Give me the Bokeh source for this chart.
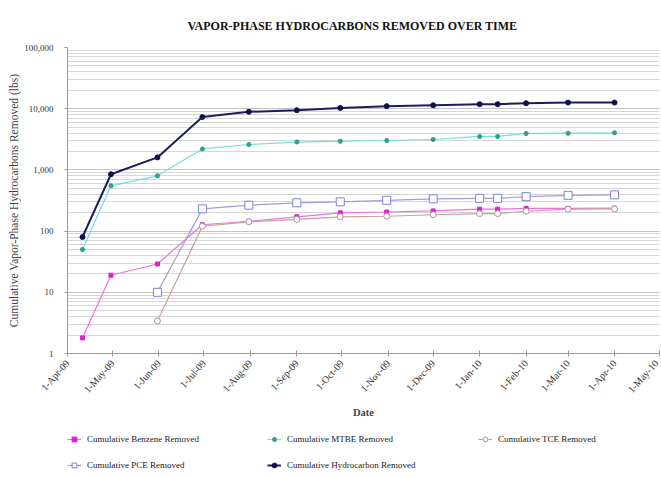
import pandas as pd
from bokeh.plotting import figure
from bokeh.layouts import column
from bokeh.models import Legend, LegendItem, FixedTicker, NumeralTickFormatter, Range1d
from bokeh.embed import file_html
from bokeh.resources import INLINE

# ---------------- data ----------------
dates = ["2009-04-11", "2009-04-30", "2009-05-31", "2009-06-30", "2009-07-31",
         "2009-09-01", "2009-09-30", "2009-10-31", "2009-12-01", "2010-01-01",
         "2010-01-13", "2010-02-01", "2010-03-01", "2010-04-01"]
benzene = [1.8, 19, 29, 127, 145, 171, 199, 205, 214, 228, 228, 235, 236, 237]
mtbe = [50, 550, 800, 2200, 2600, 2850, 2950, 3020, 3140, 3520, 3520, 3940, 3980, 4040]
tce_dates = dates[2:]
tce = [3.4, 120, 142, 155, 171, 175, 185, 193, 193, 211, 228, 230]
pce_dates = dates[2:]
pce = [10, 231, 265, 290, 301, 318, 337, 343, 343, 365, 384, 391]
hydrocarbon = [80, 850, 1600, 7300, 8900, 9450, 10300, 11000, 11400, 11850, 11850, 12300, 12600, 12600]

tick_dates = ["2009-04-01", "2009-05-01", "2009-06-01", "2009-07-01", "2009-08-01",
              "2009-09-01", "2009-10-01", "2009-11-01", "2009-12-01", "2010-01-01",
              "2010-02-01", "2010-03-01", "2010-04-01", "2010-05-01"]
tick_labels = ["1-Apr-09", "1-May-09", "1-Jun-09", "1-Jul-09", "1-Aug-09", "1-Sep-09",
               "1-Oct-09", "1-Nov-09", "1-Dec-09", "1-Jan-10", "1-Feb-10", "1-Mar-10",
               "1-Apr-10", "1-May-10"]

series_names = ["Cumulative Benzene Removed", "Cumulative MTBE Removed",
                "Cumulative TCE Removed", "Cumulative PCE Removed",
                "Cumulative Hydrocarbon Removed"]

title_text = "VAPOR-PHASE HYDROCARBONS REMOVED OVER TIME"
y_title = "Cumulative Vapor-Phase Hydrocarbons Removed (lbs)"
x_title = "Date"

start = pd.Timestamp(tick_dates[0])
def days(lst):
    return [(pd.Timestamp(d) - start).days for d in lst]

x_main = days(dates)
x_tce = days(tce_dates)
x_pce = days(pce_dates)
x_ticks = days(tick_dates)

SERIF = "Liberation Serif"

# ---------------- styles ----------------
styles = [
    dict(line=dict(line_color="#f070e0", line_width=1.2),
         mark=dict(marker="square", size=4, fill_color="#dd22cc", line_color="#dd22cc")),
    dict(line=dict(line_color="#70e0dc", line_width=1.2),
         mark=dict(marker="asterisk", size=5, line_color="#2fa090", line_width=1.5)),
    dict(line=dict(line_color="#c8a0a0", line_width=1.2),
         mark=dict(marker="circle", size=6, fill_color="white", line_color="#b89090")),
    dict(line=dict(line_color="#9d9de0", line_width=1.2),
         mark=dict(marker="square", size=8, fill_color="white", line_color="#8080d0")),
    dict(line=dict(line_color="#1c1c60", line_width=2),
         mark=dict(marker="circle", size=5, fill_color="#10104a", line_color="#10104a")),
]

# ---------------- main chart ----------------
p = figure(width=660, height=424, output_backend="svg", toolbar_location=None,
           y_axis_type="log",
           x_range=Range1d(x_ticks[0], x_ticks[-1]), y_range=Range1d(1, 100000),
           min_border_left=67, min_border_right=1, min_border_top=47, min_border_bottom=71)
p.outline_line_color = None

p.title.text = title_text
p.title.text_font = SERIF
p.title.text_font_size = "12px"
p.title.text_font_style = "bold"
p.title.align = "left"
p.title.offset = 120
p.title.standoff = 30
p.title.text_color = "#111111"

p.xaxis.ticker = FixedTicker(ticks=x_ticks)
p.xaxis.major_label_overrides = {t: l for t, l in zip(x_ticks, tick_labels)}
p.xaxis.major_label_orientation = 0.84
p.xaxis.major_label_text_font = SERIF
p.xaxis.major_label_text_font_size = "10px"
p.xaxis.major_label_text_color = "#333333"
p.xaxis.major_label_standoff = 5
p.xaxis.axis_label = x_title
p.xaxis.axis_label_text_font = SERIF
p.xaxis.axis_label_text_font_size = "10.5px"
p.xaxis.axis_label_text_font_style = "bold"
p.xaxis.axis_label_standoff = 5
p.xaxis.minor_tick_line_color = None
p.xaxis.major_tick_in = 3
p.xaxis.major_tick_out = 3
p.xaxis.axis_line_color = "#999999"
p.xaxis.major_tick_line_color = "#999999"

p.yaxis.formatter = NumeralTickFormatter(format="0,0")
p.yaxis.major_label_text_font = SERIF
p.yaxis.major_label_text_font_size = "9px"
p.yaxis.major_label_text_color = "#333333"
p.yaxis.major_label_standoff = 10
p.yaxis.axis_label = y_title
p.yaxis.axis_label_text_font = SERIF
p.yaxis.axis_label_text_font_size = "11.5px"
p.yaxis.axis_label_text_font_style = "normal"
p.yaxis.axis_label_standoff = 1
p.yaxis.minor_tick_line_color = None
p.yaxis.major_tick_in = 0
p.yaxis.major_tick_out = 3
p.yaxis.axis_line_color = "#999999"
p.yaxis.major_tick_line_color = "#999999"

p.xgrid.grid_line_color = None
p.ygrid.grid_line_color = "#c4c4c4"
p.ygrid.minor_grid_line_color = "#d6d6d6"

series = [(x_main, benzene), (x_main, mtbe), (x_tce, tce), (x_pce, pce), (x_main, hydrocarbon)]
for (xs, ys), st in zip(series, styles):
    p.line(xs, ys, **st["line"])
    p.scatter(xs, ys, **st["mark"])

# ---------------- legend strip ----------------
lf = figure(width=660, height=53, output_backend="svg", toolbar_location=None,
            x_range=Range1d(0, 1), y_range=Range1d(0, 1),
            x_axis_location=None, y_axis_location=None,
            min_border_left=67, min_border_right=1, min_border_top=0, min_border_bottom=0)
lf.outline_line_color = None
lf.xgrid.visible = False
lf.ygrid.visible = False

nan = float("nan")
# legend positions (x, y of bottom-left, in pixels of the strip's frame)
legend_locs = [(0, 32), (200, 32), (411, 32), (0, 6), (200, 6)]
for name, st, loc in zip(series_names, styles, legend_locs):
    rl = lf.line([nan], [nan], **st["line"])
    rm = lf.scatter([nan], [nan], **st["mark"])
    lg = Legend(items=[LegendItem(label=name, renderers=[rl, rm])], location=loc)
    lg.border_line_color = None
    lg.background_fill_alpha = 0
    lg.padding = 0
    lg.margin = 0
    lg.glyph_width = 14
    lg.glyph_height = 12
    lg.label_height = 12
    lg.label_standoff = 6
    lg.label_text_font = SERIF
    lg.label_text_font_size = "9px"
    lg.label_text_color = "#222222"
    lf.add_layout(lg, "center")

layout = column(p, lf, spacing=0)
open("out.html", "w").write(file_html(layout, INLINE))
